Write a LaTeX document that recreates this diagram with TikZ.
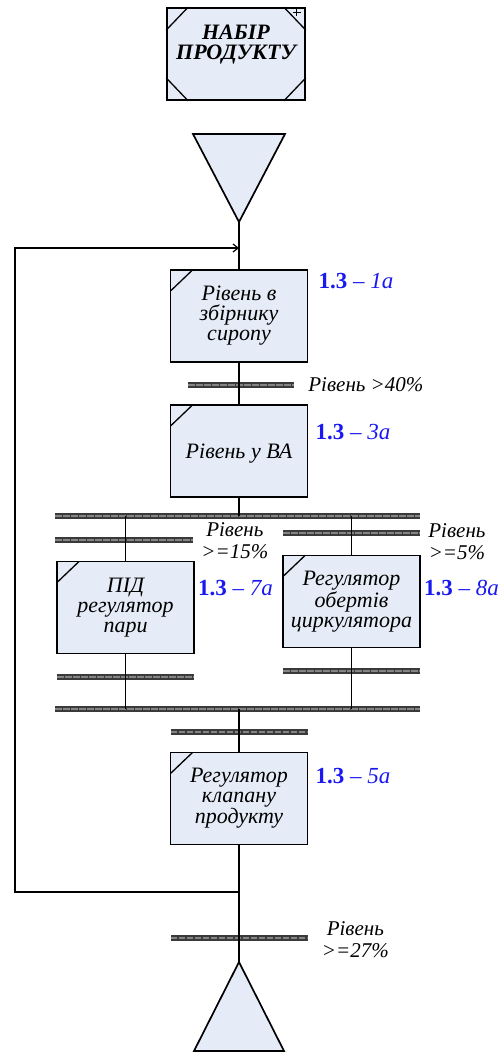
\documentclass[tikz,border=0pt]{standalone}
\usepackage{fontspec}
\setmainfont{Liberation Serif}
\usetikzlibrary{arrows.meta,positioning,calc}
\definecolor{boxfill}{HTML}{E6ECF7}
\definecolor{numblue}{HTML}{1A1AF0}
\definecolor{bardark}{HTML}{3A3A3A}
\definecolor{barlight}{HTML}{858585}
\newcommand{\steplab}[1]{{\bfseries 1.3} -- {\itshape #1}}

\begin{document}
\begin{tikzpicture}[x=1pt,y=-1pt,
 stepbox/.style={draw=black,line width=1.7pt,fill=boxfill,minimum width=137pt,minimum height=92pt,
  inner sep=2pt,align=center,font=\fontsize{22}{20}\selectfont\itshape,
  path picture={\draw[line width=1.3pt] ([yshift=-21pt]path picture bounding box.north west) -- ([xshift=22pt]path picture bounding box.north west);}},
 startbox/.style={draw=black,line width=1.7pt,fill=boxfill,minimum width=138pt,minimum height=92pt},
 title/.style={align=center,inner sep=0pt,font=\fontsize{22}{20}\selectfont\bfseries\itshape},
 tbar/.style={fill=bardark,minimum height=6pt,inner sep=0pt,
  path picture={\draw[barlight,line width=2pt,dash pattern=on 6.5pt off 1.5pt] (path picture bounding box.west) -- (path picture bounding box.east);}},
 tri/.style={draw=black,line width=1.7pt,fill=boxfill,line join=miter},
 flow/.style={line width=1.2pt},
 num/.style={text=numblue,font=\fontsize{23}{24}\selectfont,anchor=west,inner sep=0pt},
 cond/.style={font=\fontsize{21}{22}\selectfont\itshape,align=center,anchor=west,inner sep=0pt}]
\useasboundingbox (0,0) rectangle (499,1052);

% initial step with all four corners marked
\node[startbox] (start) at (236,54) {};
\node[title] (starttext) at ([yshift=9pt]start.center) {НАБІР\\ПРОДУКТУ};
\draw[line width=1.3pt] ([yshift=-23pt]start.north west) -- ([xshift=22pt]start.north west)
 ([yshift=23pt]start.south west) -- ([xshift=22pt]start.south west)
 ([yshift=-23pt]start.north east) -- ([xshift=-22pt]start.north east)
 ([yshift=23pt]start.south east) -- ([xshift=-22pt]start.south east);
\draw[line width=0.8pt] ([shift={(-13pt,-5pt)}]start.north east) -- ++(8pt,0)
 ([shift={(-9pt,-1pt)}]start.north east) -- ++(0,-8pt);

% input triangle
\draw[tri] (193,134) -- (285,134) -- (239,222) -- cycle;
\coordinate (inlet) at (239,222);
\coordinate (entry) at (239,248);
\coordinate (ret) at (239,892);

% steps
\node[stepbox] (s1) at (239,316) {Рівень в\\збірнику\\сиропу};
\node[stepbox] (s2) at (239,451) {\\Рівень у ВА};
\node[stepbox] (s3) at (125.5,607.5) {ПІД\\регулятор\\пари};
\node[stepbox] (s4) at (351.5,601.5) {Регулятор\\обертів\\циркулятора};
\node[stepbox] (s5) at (239,798.5) {Регулятор\\клапану\\продукту};

\node[num] (n1) at ([shift={(10pt,-12pt)}]s1.north east) {\steplab{1a}};
\node[num] (n2) at ([shift={(7pt,-28pt)}]s2.north east) {\steplab{3a}};
\node[num] (n3) at ([shift={(3pt,-27pt)}]s3.north east) {\steplab{7a}};
\node[num] (n4) at ([shift={(3pt,-33pt)}]s4.north east) {\steplab{8a}};
\node[num] (n5) at ([shift={(7pt,-24pt)}]s5.north east) {\steplab{5a}};

% transitions and parallel bars
\node[tbar,minimum width=106pt] (t1) at (241,385) {};
\node[tbar,minimum width=365pt] (split) at (237.5,516) {};
\node[tbar,minimum width=138pt] (t3) at (124,540) {};
\node[tbar,minimum width=137pt] (t4) at (351.5,533) {};
\node[tbar,minimum width=137pt] (t5) at (125.5,677) {};
\node[tbar,minimum width=137pt] (t6) at (351.5,671) {};
\node[tbar,minimum width=365pt] (merge) at (237.5,709) {};
\node[tbar,minimum width=137pt] (t7) at (239,732) {};
\node[tbar,minimum width=137pt] (t8) at (239,938) {};

\node[cond] (c1) at ([xshift=14pt]t1.east) {Рівень >40\%};
\node[cond] (c3) at ([shift={(8pt,-1pt)}]t3.east) {Рівень\\>=15\%};
\node[cond] (c4) at ([shift={(8pt,-9pt)}]t4.east) {Рівень\\>=5\%};
\node[cond] (c8) at ([shift={(14pt,-2pt)}]t8.east) {Рівень\\>=27\%};

% output triangle
\draw[tri] (194,1051) -- (284,1051) -- (239,962) -- cycle;
\coordinate (outlet) at (239,962);

% connections
\draw[flow] (inlet) -- (s1.north);
\draw[flow] (s1.south) -- (s2.north);
\draw[flow] (s2.south) -- (s2.south |- split.center);
\draw[flow] (split.center -| s3.north) -- (s3.north);
\draw[flow] (split.center -| s4.north) -- (s4.north);
\draw[flow] (s3.south) -- (s3.south |- merge.center);
\draw[flow] (s4.south) -- (s4.south |- merge.center);
\draw[flow] (merge.center -| s5.north) -- (s5.north);
\draw[flow] (s5.south) -- (outlet);
\draw[flow,-{Straight Barb[length=5pt,width=8pt]}] (ret) -- ++(-224,0) |- (entry);
\end{tikzpicture}
\end{document}
